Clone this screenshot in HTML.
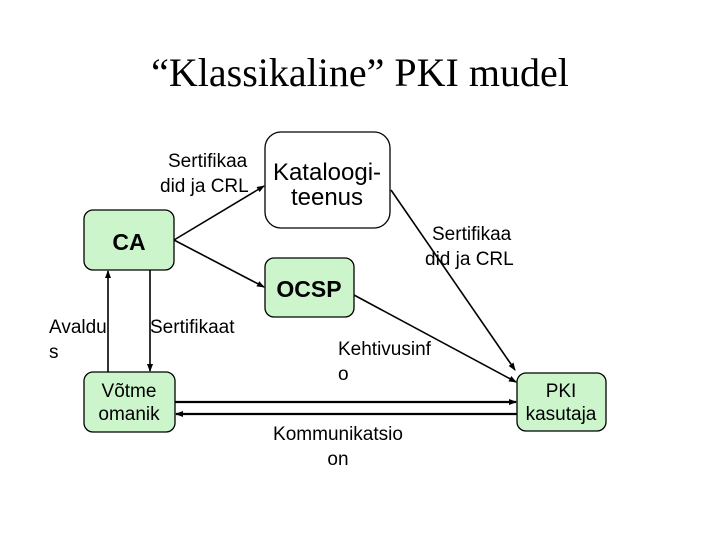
<!DOCTYPE html>
<html><head><meta charset="utf-8"><style>
body{margin:0;width:720px;height:540px;background:#fff;overflow:hidden}
svg text{font-family:"Liberation Sans",sans-serif;fill:#000}
</style></head><body>
<svg width="720" height="540" viewBox="0 0 720 540">
<defs><marker id="a" markerWidth="8" markerHeight="8" refX="7" refY="4" orient="auto" markerUnits="userSpaceOnUse"><path d="M0,1 L8,4 L0,7 z" fill="#000"/></marker></defs>
<text x="360" y="86" text-anchor="middle" style="font-family:'Liberation Serif',serif;font-size:40px">“Klassikaline” PKI mudel</text>
<rect x="265" y="132" width="125" height="96" rx="16" fill="#fff" stroke="#000" stroke-width="1.3"/>
<text x="327" y="180" text-anchor="middle" font-size="24">Kataloogi-</text>
<text x="327" y="205" text-anchor="middle" font-size="24">teenus</text>
<rect x="84" y="210" width="90" height="60" rx="9" fill="#ccf5cc" stroke="#000" stroke-width="1.3"/>
<text x="129" y="250" text-anchor="middle" font-size="23" font-weight="bold">CA</text>
<rect x="265" y="258" width="89" height="59" rx="9" fill="#ccf5cc" stroke="#000" stroke-width="1.3"/>
<text x="309" y="297" text-anchor="middle" font-size="23" font-weight="bold">OCSP</text>
<rect x="84" y="372" width="91" height="60" rx="9" fill="#ccf5cc" stroke="#000" stroke-width="1.3"/>
<text x="129" y="397" text-anchor="middle" font-size="19">Võtme</text>
<text x="129" y="420" text-anchor="middle" font-size="19">omanik</text>
<rect x="517" y="373" width="89" height="58" rx="9" fill="#ccf5cc" stroke="#000" stroke-width="1.3"/>
<text x="561" y="397" text-anchor="middle" font-size="19">PKI</text>
<text x="561" y="420" text-anchor="middle" font-size="19">kasutaja</text>
<g stroke="#000" stroke-width="1.6" fill="none">
<line x1="174" y1="240" x2="264" y2="186" marker-end="url(#a)"/>
<line x1="174" y1="240" x2="264" y2="287" marker-end="url(#a)"/>
<line x1="354" y1="295" x2="516" y2="382" marker-end="url(#a)"/>
<line x1="391" y1="190" x2="515" y2="370" marker-end="url(#a)"/>
<line x1="108" y1="372" x2="108" y2="271" marker-end="url(#a)"/>
<line x1="150" y1="270" x2="150" y2="371" marker-end="url(#a)"/>
<line x1="175" y1="402" x2="516" y2="402" stroke-width="2.2" marker-end="url(#a)"/>
<line x1="517" y1="414" x2="176" y2="414" stroke-width="2.2" marker-end="url(#a)"/>
</g>
<g font-size="19">
<text x="168" y="167">Sertifikaa</text><text x="160" y="192">did ja CRL</text>
<text x="432" y="240">Sertifikaa</text><text x="425" y="265">did ja CRL</text>
<text x="49" y="333">Avaldu</text><text x="49" y="358">s</text>
<text x="150" y="333">Sertifikaat</text>
<text x="338" y="355">Kehtivusinf</text><text x="338" y="380">o</text>
<text x="338" y="440" text-anchor="middle">Kommunikatsio</text><text x="338" y="465" text-anchor="middle">on</text>
</g>
</svg>
</body></html>
